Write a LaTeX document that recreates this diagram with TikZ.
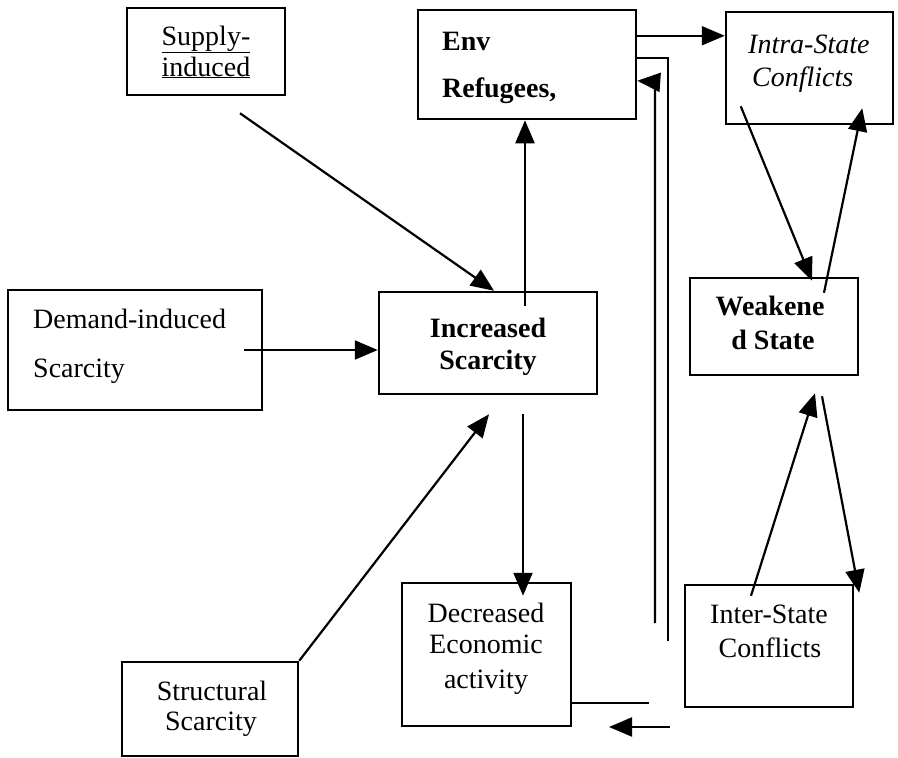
\documentclass[tikz,border=0pt]{standalone}
\usepackage{fontspec}
\setmainfont{Liberation Serif}
\usetikzlibrary{arrows.meta,calc}
\begin{document}
\begin{tikzpicture}[x=1pt,y=-1pt,
  box/.style={draw, line width=2.5pt, inner sep=0pt},
  txt/.style={font=\fontsize{28}{32}\selectfont, inner sep=0pt, anchor=base},
  btxt/.style={txt, font=\fontsize{28}{32}\selectfont\bfseries},
  itxt/.style={txt, font=\fontsize{28}{32}\selectfont\itshape},
  arr/.style={line width=2.2pt, -{Triangle[length=23pt,width=19pt]}},
  ln/.style={line width=2.2pt}]
\useasboundingbox[fill=white] (0,0) rectangle (898,758);
% boxes
\node[box, minimum width=158pt, minimum height=87pt] (supply) at (206,51.5) {};
\node[box, minimum width=218pt, minimum height=109pt] (env) at (527,64.5) {};
\node[box, minimum width=167pt, minimum height=112pt] (intra) at (809.5,68) {};
\node[box, minimum width=168pt, minimum height=97pt] (weak) at (774,326.5) {};
\node[box, minimum width=254pt, minimum height=120pt] (demand) at (135,350) {};
\node[box, minimum width=218pt, minimum height=102pt] (incr) at (488,343) {};
\node[box, minimum width=169pt, minimum height=143pt] (decr) at (486.5,654.5) {};
\node[box, minimum width=168pt, minimum height=122pt] (inter) at (769,646) {};
\node[box, minimum width=176pt, minimum height=94pt] (struct) at (210,709) {};
% texts
\node[txt] (tsup1) at (206,45) {\underline{Supply-}};
\node[txt] (tsup2) at (206,76) {\underline{induced}};
\node[btxt, anchor=base west] (tenv1) at (442,50) {Env};
\node[btxt, anchor=base west] (tenv2) at (442,97) {Refugees,};
\node[itxt, anchor=base west] (tint1) at (748,53) {Intra-State};
\node[itxt, anchor=base west] (tint2) at (752,86) {Conflicts};
\node[btxt] (twk1) at (770,315) {Weakene};
\node[btxt] (twk2) at (773,349) {d State};
\node[txt, anchor=base west] (tdem1) at (33,328) {Demand-induced};
\node[txt, anchor=base west] (tdem2) at (33,377) {Scarcity};
\node[btxt] (tinc1) at (488,337) {Increased};
\node[btxt] (tinc2) at (488,369) {Scarcity};
\node[txt] (tdec1) at (486,622) {Decreased};
\node[txt] (tdec2) at (486,653) {Economic};
\node[txt] (tdec3) at (486,688) {activity};
\node[txt] (tint3) at (769,623) {Inter-State};
\node[txt] (tint4) at (770,657) {Conflicts};
\node[txt] (tstr1) at (212,700) {Structural};
\node[txt] (tstr2) at (211,730) {Scarcity};
% connectors
\draw[arr] ($(supply.south)+(34,17)$) -- ($(incr.north)+(6,0)$);
\draw[arr] ($(demand.east)+(-19,0)$) -- ($(incr.west)+(0,7)$);
\draw[arr] (struct.north east) -- ($(incr.south)+(1,19)$);
\coordinate (a) at ($(incr.north)+(37,15)$);
\draw[arr] (a) -- (a |- env.south);
\draw[arr] ($(incr.south)+(35,19)$) -- ($(decr.north)+(36.5,14)$);
\coordinate (b) at ($(env.north east)+(0,27)$);
\draw[arr] (b) -- (b -| intra.west);
\draw[ln] ($(env.north east)+(0,49)$) -- ++(31,0) -- ++(0,583);
\coordinate (c) at (655,623);
\draw[arr] (c) -- ++(0,-541) -- ($(env.north east)+(0,72)$);
\draw[ln] ($(decr.south east)+(0,-24)$) -- ++(77,0);
\coordinate (d) at (670,727);
\coordinate (e) at (609,727);
\draw[arr] (d) -- (e);
\draw[arr] ($(intra.south west)+(16,-19)$) -- ($(weak.north)+(38,4)$);
\draw[arr] ($(weak.north)+(50,16)$) -- ($(intra.south east)+(-32,-17)$);
\draw[arr] ($(inter.north)+(-18,12)$) -- ($(weak.south)+(41,17)$);
\draw[arr] ($(weak.south)+(48,20)$) -- ($(inter.north east)+(5,9)$);
\end{tikzpicture}
\end{document}
